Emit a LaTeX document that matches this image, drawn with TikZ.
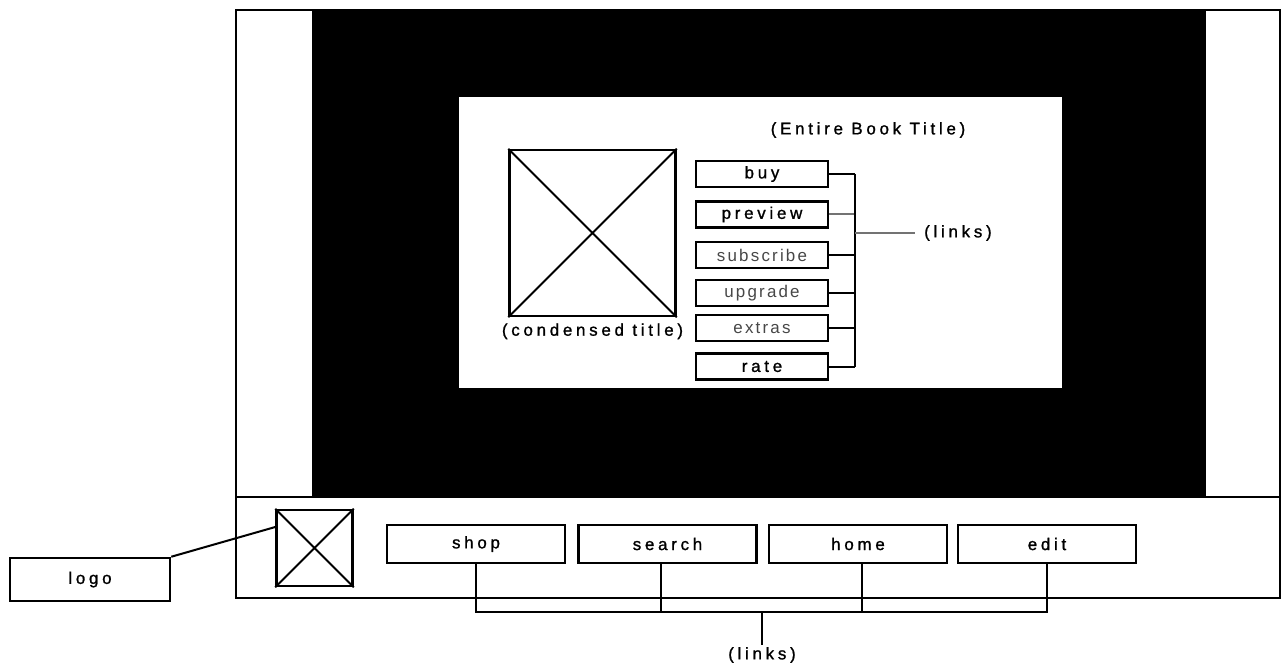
\documentclass[tikz,border=0pt]{standalone}
\usepackage{fontspec}
\setmainfont{Liberation Sans}
\newfontfamily\lblfont[LetterSpace=22,FakeBold=1.2]{Liberation Sans}
\newfontfamily\plainfont[LetterSpace=13]{Liberation Sans}
\usetikzlibrary{positioning}
\begin{document}
\begin{tikzpicture}[x=1bp,y=-1bp,lbl/.style={inner sep=2bp,font=\lblfont\fontsize{17}{18}\selectfont},btn/.style={draw,line width=2.5bp,minimum width=132bp,minimum height=26bp,inner sep=0pt,lbl},thin/.style={font=\plainfont\fontsize{17}{18}\selectfont,text=black!72},navbtn/.style={btn,minimum width=178bp,minimum height=38bp},imgbox/.style={draw,line width=2.5bp,inner sep=0pt},conn/.style={line width=2bp},soft/.style={line width=2bp,draw=black!55}]
\useasboundingbox (0,0) rectangle (1283,669);
\fill (312,10) rectangle (1206,497);
\fill[white] (459,97) rectangle (1062,388);
\draw[line width=2.5bp] (236,10) rectangle (1280,598);
\draw[line width=2.5bp] (236,497) -- (1280,497);
\node[imgbox,minimum size=166bp] (cover) at (592.5,233) {};
\draw[conn] (cover.north west) -- (cover.south east) (cover.north east) -- (cover.south west);
\node[lbl,below=4bp of cover] (ctitle) {(condensed title)};
\node[lbl] (etitle) at (868,130) {(Entire Book Title)};
\node[btn] (buy) at (762,174) {buy};
\node[btn] (preview) at (762,214.5) {preview};
\node[btn,thin] (subscribe) at (762,255) {subscribe};
\node[btn,thin] (upgrade) at (762,293) {upgrade};
\node[btn,thin] (extras) at (762,328) {extras};
\node[btn] (rate) at (762,366.5) {rate};
\coordinate (jr) at (855,233);
\node[lbl,anchor=west,inner sep=9bp] (rlinks) at (915,233) {(links)};
\foreach \b in {buy,subscribe,upgrade,extras,rate}
  \draw[conn] (\b.east) -- (\b.east -| jr);
\draw[soft] (preview.east) -- (preview.east -| jr);
\draw[conn] (buy.east -| jr) -- (rate.east -| jr);
\draw[soft] (jr) -- (rlinks.west);
\node[imgbox,minimum size=76bp] (limg) at (314.5,548) {};
\draw[conn] (limg.north west) -- (limg.south east) (limg.north east) -- (limg.south west);
\node[btn,minimum width=160bp,minimum height=43bp] (logo) at (90,579.5) {logo};
\draw[conn] (logo.north east) -- ([yshift=21bp]limg.west);
\node[navbtn] (shop) at (476,544) {shop};
\node[navbtn] (search) at (667.5,544) {search};
\node[navbtn] (home) at (858,544) {home};
\node[navbtn] (edit) at (1047,544) {edit};
\coordinate (jb) at (762,612);
\node[lbl] (blinks) at (762,655) {(links)};
\draw[conn] (shop.south) -- (shop.south |- jb) -- (edit.south |- jb) -- (edit.south);
\draw[conn] ([xshift=-7bp]search.south) -- ([xshift=-7bp]search.south |- jb);
\draw[conn] ([xshift=4bp]home.south) -- ([xshift=4bp]home.south |- jb);
\draw[conn] (jb) -- (blinks.north);
\end{tikzpicture}
\end{document}
